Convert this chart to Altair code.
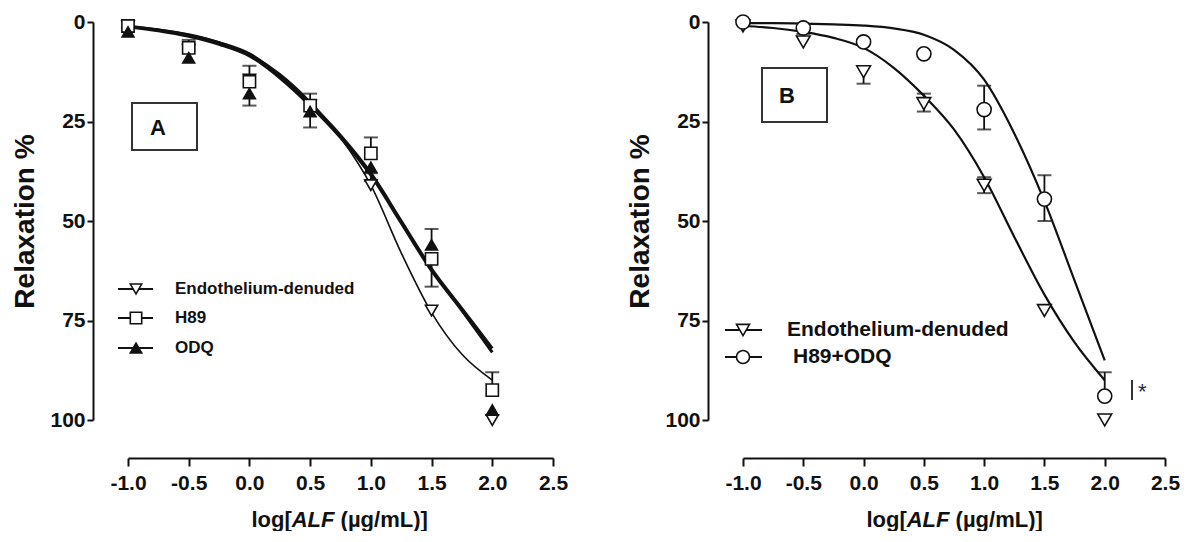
import altair as alt
import pandas as pd

FONT = "Liberation Sans"
INK = "#111111"

DOSES = [-1.0, -0.5, 0.0, 0.5, 1.0, 1.5, 2.0]
FIT_X = [-1.0, -0.75, -0.5, -0.25, 0.0, 0.25, 0.5, 0.75, 1.0, 1.25, 1.5, 1.75, 2.0]

# ---- Panel A ----
A_ENDO = [1, 7, 14.5, 21, 41, 72.5, 100]
A_ENDO_LO = [None, None, None, None, 38, None, None]
A_ENDO_HI = [None, None, None, None, None, None, None]
A_H89 = [1, 6.5, 15, 21, 33, 59.5, 92.5]
A_H89_LO = [None, 4.5, 11, 18, 29, None, 88]
A_H89_HI = [None, None, None, None, None, 66.5, None]
A_ODQ = [2.5, 9, 18, 22.5, 36.5, 56, 97.5]
A_ODQ_LO = [None, None, None, None, None, 52, None]
A_ODQ_HI = [None, None, 21, 26.5, 40, None, None]
A_ENDO_FIT = [1, 1.8, 3, 5, 8, 13, 20, 29, 41, 58, 73, 83.5, 90]
A_H89_FIT = [1, 2, 3.3, 5.2, 8, 13.5, 20.5, 28.5, 38, 50, 62, 72, 82]
A_ODQ_FIT = [1.2, 2.2, 3.6, 5.6, 8.5, 14, 21, 29, 38.5, 50.5, 62.5, 72.5, 83]

# ---- Panel B ----
B_ENDO = [1, 5, 12.5, 20.5, 41, 72.5, 100]
B_ENDO_LO = [None, 3, None, 18, 39, None, None]
B_ENDO_HI = [None, None, 15.5, 22.5, 43, None, None]
B_COMB = [0, 1.5, 5, 8, 22, 44.5, 94]
B_COMB_LO = [None, None, None, None, 16, 38.5, 88]
B_COMB_HI = [None, None, None, None, 27, 50, None]
B_ENDO_FIT = [1, 1.5, 2.5, 4, 6.5, 11.5, 18.5, 27, 39, 54, 68.5, 80.5, 90]
B_COMB_FIT = [0.3, 0.3, 0.4, 0.6, 0.9, 1.6, 3.2, 7, 14.5, 28, 45, 65, 85]

X_TICKS = [-1.0, -0.5, 0.0, 0.5, 1.0, 1.5, 2.0, 2.5]
Y_TICKS = [0, 25, 50, 75, 100]

XS = alt.Scale(domain=[-1, 2.5], nice=False, zero=False)
YS = alt.Scale(domain=[0, 100], reverse=True, nice=False, zero=False)

X_AXIS = alt.Axis(values=X_TICKS, offset=38, tickSize=8, tickWidth=2, domainWidth=2,
                  domainColor=INK, tickColor=INK, labelFont=FONT, labelFontSize=21,
                  labelFontWeight="bold", labelColor=INK, labelPadding=6,
                  labelExpr="replace(format(datum.value, '.1f'), '\u2212', '-')",
                  grid=False, title=None, labelFlush=False)
Y_AXIS = alt.Axis(values=Y_TICKS, offset=35, tickSize=6, tickWidth=2, domainWidth=2,
                  domainColor=INK, tickColor=INK, labelFont=FONT, labelFontSize=21,
                  labelFontWeight="bold", labelColor=INK, labelPadding=2, format="d",
                  grid=False, title="Relaxation %", titleFont=FONT, titleFontSize=28,
                  titleFontWeight="bold", titleColor=INK, titlePadding=10)


def X(field):
    return alt.X(field, scale=XS, axis=X_AXIS)


def Y(field):
    return alt.Y(field, scale=YS, axis=Y_AXIS)


def err_df(means, lo, hi):
    rows = []
    for x, m, l, h in zip(DOSES, means, lo, hi):
        for e in (l, h):
            if e is not None:
                rows.append({"x": x, "y": m, "e": e})
    return pd.DataFrame(rows)


def fit_line(vals, width):
    df = pd.DataFrame({"x": FIT_X, "y": vals})
    return alt.Chart(df).mark_line(color=INK, strokeWidth=width, interpolate="monotone").encode(
        x=X("x:Q"), y=Y("y:Q"))


def err_layers(means, lo, hi, cap=14):
    df = err_df(means, lo, hi)
    if df.empty:
        return []
    bar = alt.Chart(df).mark_rule(color=INK, strokeWidth=1.8).encode(
        x=X("x:Q"), y=Y("y:Q"), y2="e:Q")
    caps = alt.Chart(df).mark_tick(color=INK, thickness=2, size=cap, orient="horizontal").encode(
        x=X("x:Q"), y=Y("e:Q"))
    return [bar, caps]


def marker(means, shape, size, filled):
    df = pd.DataFrame({"x": DOSES, "y": means})
    return alt.Chart(df).mark_point(
        shape=shape, size=size, filled=True,
        fill=INK if filled else "white", stroke=INK, strokeWidth=1.6, opacity=1,
    ).encode(x=X("x:Q"), y=Y("y:Q"))


def text_at(txt, x, y, size, weight="bold", style="normal", align="left", color=INK):
    return alt.Chart(pd.DataFrame({"t": [txt]})).mark_text(
        font=FONT, fontSize=size, fontWeight=weight, fontStyle=style, align=align,
        baseline="middle", color=color,
    ).encode(x=alt.value(x), y=alt.value(y), text="t:N")


def legend_row(x0, x1, xc, y, shape, size, filled, label, tx, fsize):
    one = pd.DataFrame({"k": [0]})
    line = alt.Chart(one).mark_rule(color=INK, strokeWidth=2).encode(
        x=alt.value(x0), x2=alt.value(x1), y=alt.value(y))
    sym = alt.Chart(one).mark_point(shape=shape, size=size, filled=True,
                                    fill=INK if filled else "white", stroke=INK,
                                    strokeWidth=1.6, opacity=1).encode(
        x=alt.value(xc), y=alt.value(y))
    return [line, sym, text_at(label, tx, y, fsize)]


def box_label(x0, x1, y0, y1, letter, lx, ly):
    one = pd.DataFrame({"k": [0]})
    rect = alt.Chart(one).mark_rect(fill="white", stroke="#333333", strokeWidth=2).encode(
        x=alt.value(x0), x2=alt.value(x1), y=alt.value(y0), y2=alt.value(y1))
    return [rect, text_at(letter, lx, ly, 22, align="center")]


def x_title(cx, y, size=22):
    # "log[" + italic "ALF" + " (µg/mL)]"
    w1, w2, w3 = 1.833 * size, 1.944 * size, 4.277 * size
    start = cx - (w1 + w2 + w3) / 2
    return [
        text_at("log[", start, y, size),
        text_at("ALF", start + w1, y, size, style="italic"),
        text_at("(µg/mL)]", start + w1 + w2 + 0.278 * size, y, size),
    ]


# ---------- Panel A ----------
WA, HA = 425, 398
layers_a = [fit_line(A_ENDO_FIT, 1.6), fit_line(A_H89_FIT, 3.0), fit_line(A_ODQ_FIT, 3.0)]
layers_a += err_layers(A_ENDO, A_ENDO_LO, A_ENDO_HI)
layers_a += err_layers(A_H89, A_H89_LO, A_H89_HI)
layers_a += err_layers(A_ODQ, A_ODQ_LO, A_ODQ_HI)
layers_a += [marker(A_ENDO, "triangle-down", 150, False),
             marker(A_H89, "square", 150, False),
             marker(A_ODQ, "triangle-up", 140, True)]
layers_a += legend_row(-10, 25, 8, 267, "triangle-down", 130, False, "Endothelium-denuded", 47, 17)
layers_a += legend_row(-10, 25, 8, 296, "square", 130, False, "H89", 47, 17)
layers_a += legend_row(-10, 25, 8, 326, "triangle-up", 130, True, "ODQ", 47, 17)
layers_a += box_label(4, 69, 81, 128, "A", 30, 106)
layers_a += x_title(212, 498)
panel_a = alt.layer(*layers_a).properties(width=WA, height=HA)

# ---------- Panel B ----------
WB, HB = 422, 398
layers_b = [fit_line(B_ENDO_FIT, 2.2), fit_line(B_COMB_FIT, 2.2)]
layers_b += err_layers(B_ENDO, B_ENDO_LO, B_ENDO_HI)
layers_b += err_layers(B_COMB, B_COMB_LO, B_COMB_HI)
layers_b += [marker(B_ENDO, "triangle-down", 190, False),
             marker(B_COMB, "circle", 200, False)]
layers_b += legend_row(-18, 19, 0, 308, "triangle-down", 170, False, "Endothelium-denuded", 44, 21)
layers_b += legend_row(-18, 19, 0, 335, "circle", 170, False, "H89+ODQ", 50, 21)
layers_b += box_label(19, 84, 46, 100, "B", 44, 74)
layers_b += x_title(212, 498)
one = pd.DataFrame({"k": [0]})
layers_b += [alt.Chart(one).mark_rule(color="#333333", strokeWidth=2).encode(
    x=alt.value(389), y=alt.value(358), y2=alt.value(378)),
    text_at("*", 395, 370, 22, weight="normal", color="#1f2a44")]
panel_b = alt.layer(*layers_b).properties(width=WB, height=HB)

chart = alt.hconcat(panel_a, panel_b, spacing=190, bounds="flush").properties(
    padding={"left": 3, "top": 3, "right": 0, "bottom": 0},
    background="white",
).configure_view(stroke=None)

chart.save("out.html", embed_options={"renderer": "svg", "actions": False})
